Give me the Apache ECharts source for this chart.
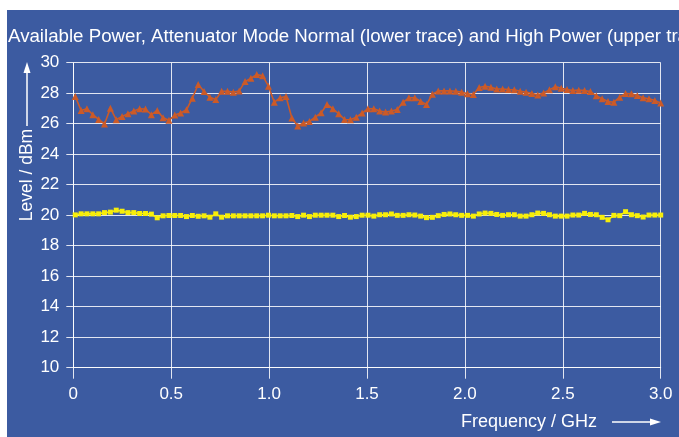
<!DOCTYPE html>
<html>
<head>
<meta charset="utf-8">
<script src="https://cdn.jsdelivr.net/npm/echarts@6/dist/echarts.min.js"></script>
<style>
html,body{margin:0;padding:0;background:#ffffff;}
#chart{width:679px;height:437px;}
</style>
</head>
<body>
<div id="chart"></div>
<script>
// Frequency sweep: 101 points from 0.01 GHz to 3.0 GHz
const freqStart = 0.01;
const freqStep = 0.0299;
const pointCount = 101;

// Upper trace (High Power), dBm
const highPower = [
  27.78, 26.87, 26.98, 26.59, 26.28, 25.98, 27.02, 26.26, 26.48, 26.65,
  26.83, 26.98, 26.96, 26.59, 26.87, 26.39, 26.22, 26.57, 26.70, 26.91,
  27.67, 28.57, 28.11, 27.74, 27.59, 28.13, 28.13, 28.07, 28.15, 28.76,
  28.98, 29.22, 29.15, 28.46, 27.41, 27.70, 27.78, 26.37, 25.85, 26.04,
  26.15, 26.43, 26.72, 27.26, 26.98, 26.65, 26.28, 26.26, 26.43, 26.70,
  26.98, 26.98, 26.83, 26.76, 26.83, 26.93, 27.41, 27.70, 27.70, 27.46,
  27.26, 27.93, 28.15, 28.15, 28.15, 28.13, 28.07, 27.96, 27.91, 28.37,
  28.46, 28.39, 28.28, 28.28, 28.24, 28.22, 28.13, 28.07, 27.98, 27.89,
  28.02, 28.22, 28.43, 28.33, 28.24, 28.17, 28.20, 28.17, 28.11, 27.83,
  27.63, 27.46, 27.41, 27.74, 27.98, 27.96, 27.85, 27.70, 27.63, 27.52,
  27.35
];

// Lower trace (Attenuator Mode Normal), dBm
const normalMode = [
  20.02, 20.09, 20.09, 20.09, 20.09, 20.17, 20.20, 20.33, 20.26, 20.17,
  20.17, 20.11, 20.11, 20.07, 19.83, 19.96, 19.98, 19.98, 19.98, 19.91,
  19.98, 19.93, 19.96, 19.87, 20.09, 19.87, 19.96, 19.96, 19.96, 19.96,
  19.96, 19.96, 19.96, 20.00, 19.96, 19.96, 19.96, 19.98, 19.91, 20.00,
  19.91, 20.00, 20.00, 20.00, 20.00, 19.91, 19.98, 19.87, 19.91, 20.00,
  20.00, 19.94, 20.03, 20.03, 20.08, 19.99, 19.99, 20.03, 20.01, 19.94,
  19.84, 19.86, 19.97, 20.05, 20.08, 20.03, 19.99, 19.99, 19.94, 20.08,
  20.14, 20.12, 20.05, 19.99, 20.03, 20.03, 19.94, 19.94, 20.03, 20.14,
  20.12, 20.03, 19.94, 19.94, 19.94, 20.01, 20.01, 20.12, 20.05, 20.03,
  19.86, 19.70, 19.99, 19.97, 20.23, 20.03, 19.97, 19.88, 20.01, 20.01,
  20.01
];

const titleText = 'Available Power, Attenuator Mode Normal (lower trace) and High Power (upper trace)';
const xName = 'Frequency / GHz';
const yName = 'Level / dBm';

const freqs = [];
for (let i = 0; i < pointCount; i++) freqs.push(+(freqStart + i * freqStep).toFixed(4));
const pair = (arr) => arr.map((v, i) => [freqs[i], v]);

const FONT = '"Liberation Sans", Arial, Helvetica, sans-serif';
const BLUE = '#3c5ba1';
const WHITE = '#ffffff';
const GRIDC = 'rgba(255,255,255,0.85)';

const chart = echarts.init(document.getElementById('chart'), null, {renderer: 'canvas'});
chart.setOption({
  animation: false,
  backgroundColor: '#ffffff',
  grid: {left: 73.3, right: 18.3, top: 62.7, bottom: 69.3, containLabel: false},
  graphic: [
    {type: 'rect', z: -10, silent: true, shape: {x: 7, y: 10, width: 700, height: 440}, style: {fill: BLUE}},
    {type: 'text', x: 8, y: 37, style: {text: titleText, fill: WHITE, font: '18.7px ' + FONT, textAlign: 'left', textVerticalAlign: 'middle'}},
    {type: 'text', x: 27, y: 175, rotation: Math.PI / 2, style: {text: yName, fill: WHITE, font: '17.5px ' + FONT, textAlign: 'center', textVerticalAlign: 'middle'}},
    {type: 'line', shape: {x1: 27, y1: 126, x2: 27, y2: 72}, style: {stroke: WHITE, lineWidth: 1.5}},
    {type: 'polygon', shape: {points: [[27, 62], [23.5, 73], [30.5, 73]]}, style: {fill: WHITE}},
    {type: 'text', x: 461, y: 422, style: {text: xName, fill: WHITE, font: '18px ' + FONT, textAlign: 'left', textVerticalAlign: 'middle'}},
    {type: 'line', shape: {x1: 612, y1: 422, x2: 652, y2: 422}, style: {stroke: WHITE, lineWidth: 1.5}},
    {type: 'polygon', shape: {points: [[661, 422], [650, 418.5], [650, 425.5]]}, style: {fill: WHITE}}
  ],
  xAxis: {
    type: 'value', min: 0, max: 3, interval: 0.5,
    axisLine: {show: true, lineStyle: {color: GRIDC, width: 1}},
    axisTick: {show: true, length: 11, lineStyle: {color: GRIDC, width: 1}},
    axisLabel: {color: WHITE, fontSize: 17, fontFamily: FONT, margin: 18,
      formatter: (v) => v === 0 ? '0' : v.toFixed(1)},
    splitLine: {show: true, lineStyle: {color: GRIDC, width: 1}}
  },
  yAxis: {
    type: 'value', min: 10, max: 30, interval: 2,
    axisLine: {show: true, lineStyle: {color: GRIDC, width: 1}},
    axisTick: {show: true, length: 7, lineStyle: {color: GRIDC, width: 1}},
    axisLabel: {color: WHITE, fontSize: 17, fontFamily: FONT, margin: 14},
    splitLine: {show: true, lineStyle: {color: GRIDC, width: 1}}
  },
  series: [
    {
      name: 'High Power', type: 'line', data: pair(highPower),
      symbol: 'triangle', symbolSize: 7, showAllSymbol: true,
      lineStyle: {color: '#cc5a27', width: 1.6},
      itemStyle: {color: '#cc5a27'}
    },
    {
      name: 'Attenuator Mode Normal', type: 'line', data: pair(normalMode),
      symbol: 'rect', symbolSize: 5, showAllSymbol: true,
      lineStyle: {color: '#f7ee0a', width: 1.6},
      itemStyle: {color: '#f7ee0a'}
    }
  ]
});
</script>
</body>
</html>
